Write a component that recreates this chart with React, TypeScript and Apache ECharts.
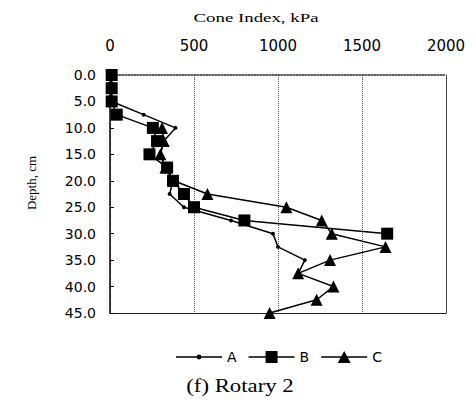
import React, { useEffect, useRef } from "react";
import * as echarts from "echarts";

const depths = [0, 2.5, 5, 7.5, 10, 12.5, 15, 17.5, 20, 22.5, 25, 27.5, 30, 32.5, 35, 37.5, 40, 42.5, 45];
const seriesA = [10, 10, 10, 200, 390, 320, 300, 330, 375, 355, 440, 720, 970, 1000, 1160, 1120];
const seriesB = [10, 10, 10, 40, 255, 280, 235, 340, 375, 440, 500, 800, 1650];
const seriesC = [null, null, null, null, 310, 320, 300, 330, 380, 580, 1050, 1260, 1320, 1640, 1310, 1120, 1330, 1230, 950];
const seriesNames = ["A", "B", "C"];
const xTitle = "Cone Index, kPa";
const yTitle = "Depth, cm";
const caption = "(f) Rotary 2";

function pairs(vals: (number | null)[]) {
  const out: [number, number][] = [];
  vals.forEach((v, i) => {
    if (v !== null && v !== undefined) out.push([v, depths[i]]);
  });
  return out;
}

const lineBar = "M0 5.3 H46 V6.7 H0 Z ";
const legendIcons: Record<string, string> = {
  A: "path://" + lineBar + "M20.6 6 A2.4 2.4 0 1 1 25.4 6 A2.4 2.4 0 1 1 20.6 6 Z",
  B: "path://" + lineBar + "M17 0 H29 V12 H17 Z",
  C: "path://" + lineBar + "M23 0 L29.5 12 H16.5 Z",
};

export default function App() {
  const ref = useRef<HTMLDivElement>(null);
  useEffect(() => {
    if (!ref.current) return;
    const chart = echarts.init(ref.current, undefined, { renderer: "svg" });
    const sans = "DejaVu Sans";
    const serif = "Liberation Serif";
    chart.setOption({
      animation: false,
      backgroundColor: "#fff",
      grid: { left: 110, right: 30, top: 75, bottom: 90, show: false },
      legend: {
        left: 171,
        top: 345,
        itemWidth: 46,
        itemHeight: 12,
        itemGap: 12,
        textStyle: { fontFamily: sans, fontSize: 14, color: "#000" },
        data: seriesNames.map((n) => ({ name: n, icon: legendIcons[n] })),
      },
      xAxis: [
        {
          type: "value",
          position: "top",
          min: 0,
          max: 2000,
          interval: 500,
          axisLine: { show: true, lineStyle: { color: "#222", type: "dotted", width: 1.5 } },
          axisTick: { show: false },
          axisLabel: {
            margin: 22,
            fontFamily: sans,
            fontSize: 15,
            color: "#000",
            formatter: (v: number) => String(v),
          },
          splitLine: { show: true, lineStyle: { color: "#555", type: "dotted", width: 1 } },
        },
        {
          type: "value",
          position: "bottom",
          min: 0,
          max: 2000,
          interval: 500,
          axisLine: { show: true, onZero: false, lineStyle: { color: "#222", width: 1 } },
          axisTick: { show: false },
          axisLabel: { show: false },
          splitLine: { show: false },
        },
      ],
      yAxis: [
        {
          type: "value",
          inverse: true,
          min: 0,
          max: 45,
          interval: 5,
          axisLine: { show: true, onZero: false, lineStyle: { color: "#000", width: 1.5 } },
          axisTick: { show: true, inside: true, length: 4, lineStyle: { color: "#000" } },
          axisLabel: {
            margin: 14,
            fontFamily: sans,
            fontSize: 14,
            color: "#000",
            formatter: (v: number) => v.toFixed(1),
          },
          splitLine: { show: false },
        },
        {
          type: "value",
          inverse: true,
          position: "right",
          min: 0,
          max: 45,
          interval: 5,
          axisLine: { show: true, onZero: false, lineStyle: { color: "#444", width: 1 } },
          axisTick: { show: false },
          axisLabel: { show: false },
          splitLine: { show: false },
        },
      ],
      graphic: [
        {
          type: "text",
          x: 256,
          y: 18,
          scaleX: 1.45,
          style: {
            text: xTitle,
            fontFamily: serif,
            fontSize: 13,
            fill: "#000",
            align: "center",
            verticalAlign: "middle",
          },
        },
        {
          type: "text",
          x: 31,
          y: 183,
          rotation: Math.PI / 2,
          style: {
            text: yTitle,
            fontFamily: serif,
            fontSize: 13,
            fill: "#000",
            align: "center",
            verticalAlign: "middle",
          },
        },
        {
          type: "text",
          x: 240,
          y: 386,
          scaleX: 1.2,
          style: {
            text: caption,
            fontFamily: serif,
            fontSize: 19,
            fill: "#000",
            align: "center",
            verticalAlign: "middle",
          },
        },
      ],
      series: [
        {
          name: "A",
          type: "line",
          data: pairs(seriesA),
          symbol: "circle",
          symbolSize: 4,
          lineStyle: { color: "#000", width: 1.5 },
          itemStyle: { color: "#000" },
          z: 3,
        },
        {
          name: "B",
          type: "line",
          data: pairs(seriesB),
          symbol: "rect",
          symbolSize: 12,
          lineStyle: { color: "#000", width: 1.5 },
          itemStyle: { color: "#000" },
          z: 4,
        },
        {
          name: "C",
          type: "line",
          data: pairs(seriesC),
          symbol: "triangle",
          symbolSize: 12,
          lineStyle: { color: "#000", width: 1.5 },
          itemStyle: { color: "#000" },
          z: 2,
        },
      ],
    });
    return () => chart.dispose();
  }, []);
  return (
    <div
      ref={ref}
      style={{ position: "absolute", left: 0, top: 0, width: 476, height: 403, background: "#fff" }}
    />
  );
}
